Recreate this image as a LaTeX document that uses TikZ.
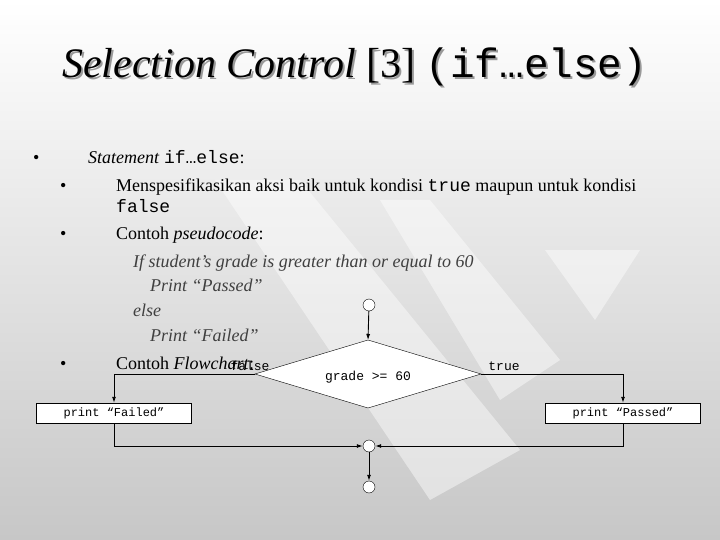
\documentclass[tikz,border=0pt]{standalone}
\usepackage{fontspec}
\setmainfont{Liberation Serif}
\setmonofont{Liberation Mono}
\usetikzlibrary{arrows.meta}
\begin{document}
\begin{tikzpicture}[x=1pt,y=-1pt,
  box/.style={draw,fill=white,minimum width=155pt,minimum height=20pt,inner sep=0pt,font=\ttfamily\fontsize{12}{12}\selectfont},
  circ/.style={draw,fill=white,circle,minimum size=12pt,inner sep=0pt},
  arr/.style={-{Latex[length=6pt,width=4pt]},line width=0.9pt},
  txt/.style={anchor=base west,inner sep=0pt,font=\fontsize{18}{18}\selectfont},
  ps/.style={txt,text=black!75,font=\itshape\fontsize{18}{18}\selectfont}]
\shade[top color=white,bottom color=black!22] (0,0) rectangle (720,540);
\fill[white,opacity=0.45] (215,180) -- (300,180) -- (520,450) -- (430,500) -- cycle;
\fill[white,opacity=0.45] (380,200) -- (430,200) -- (560,360) -- (500,400) -- cycle;
\fill[white,opacity=0.45] (545,250) -- (640,250) -- (595,320) -- cycle;
\useasboundingbox (0,0) rectangle (720,540);
% title
\node[anchor=base west,inner sep=0pt,text=black!40] (tsh) at (64,80) {\fontsize{42}{42}\selectfont\textit{Selection Control} [3] \texttt{\fontsize{41}{41}\selectfont(if…else)}};
\node[anchor=base west,inner sep=0pt] (title) at (62,78) {\fontsize{42}{42}\selectfont\textit{Selection Control} [3] \texttt{\fontsize{41}{41}\selectfont(if…else)}};
% bullets
\node[txt] (b1) at (33,164) {•};
\node[txt] (l1) at (88,164) {\textit{Statement} \texttt{if…else}:};
\node[txt] (b2) at (60,192) {•};
\node[txt] (l2) at (116,192) {Menspesifikasikan aksi baik untuk kondisi \texttt{true} maupun untuk kondisi};
\node[txt] (l2b) at (116,212) {\texttt{false}};
\node[txt] (b3) at (60,240) {•};
\node[txt] (l3) at (116,240) {Contoh \textit{pseudocode}:};
\node[ps] (p1) at (133,267) {If student’s grade is greater than or equal to 60};
\node[ps] (p2) at (150,291) {Print “Passed”};
\node[ps] (p3) at (133,316) {else};
\node[ps] (p4) at (150,341) {Print “Failed”};
\node[txt] (b4) at (60,369) {•};
\node[txt] (l4) at (116,369) {Contoh \textit{Flowchart}:};
% flowchart
\node[circ] (start) at (369,305) {};
\draw[fill=white] (255,374) coordinate (dl) -- (368,340) coordinate (dtop) -- (481,374) coordinate (dr) -- (368,408) -- cycle;
\node[font=\ttfamily\fontsize{13}{13}\selectfont] (cond) at (368,377) {grade >= 60};
\node[box] (fail) at (114,413) {print “Failed”};
\node[box] (pass) at (623,413) {print “Passed”};
\node[circ] (merge) at (369,446) {};
\node[circ] (stop) at (369,487) {};
\node[anchor=base,font=\ttfamily\fontsize{13}{13}\selectfont] (flab) at (250,370) {false};
\node[anchor=base,font=\ttfamily\fontsize{13}{13}\selectfont] (tlab) at (504,370) {true};
\draw[arr] (start) -- (dtop);
\draw[arr] (dl) -| (fail.north);
\draw[arr] (dr) -| (pass.north);
\draw[arr] (fail.south) |- (merge.west);
\draw[arr] (pass.south) |- (merge.east);
\draw[arr] (merge) -- (stop);
\end{tikzpicture}
\end{document}
